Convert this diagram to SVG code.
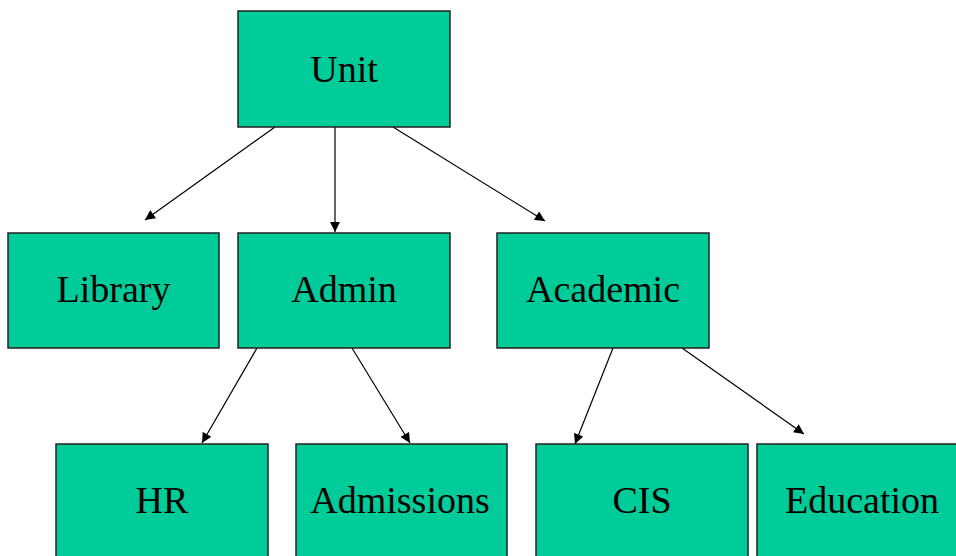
<svg xmlns="http://www.w3.org/2000/svg" width="956" height="556" viewBox="0 0 956 556">
<style>
.box{fill:#00CC99;stroke:#222;stroke-width:1.5}
.lbl{font-family:"Liberation Serif","Times New Roman",serif;font-size:38px;fill:#000;text-anchor:middle}
.edge{stroke:#000;stroke-width:1.2;fill:none;marker-end:url(#ah)}
</style>
<defs>
<marker id="ah" viewBox="0 0 10 10" refX="10" refY="5" markerWidth="11" markerHeight="10" markerUnits="userSpaceOnUse" orient="auto">
<path d="M0,0 L10,5 L0,10 Z" fill="#000"/>
</marker>
</defs>
<rect width="956" height="556" fill="#fff"/>
<g id="connectors">
<line class="edge" x1="275" y1="127" x2="145" y2="220"/>
<line class="edge" x1="335" y1="127" x2="335" y2="232"/>
<line class="edge" x1="393" y1="127" x2="545" y2="221"/>
<line class="edge" x1="257" y1="348" x2="202" y2="443"/>
<line class="edge" x1="352" y1="348" x2="410" y2="443"/>
<line class="edge" x1="613" y1="348" x2="575" y2="444"/>
<line class="edge" x1="682" y1="348" x2="804" y2="434"/>
</g>
<g id="unit"><rect class="box" x="238" y="11" width="212" height="116"/><text class="lbl" x="344" y="82">Unit</text></g>
<g id="library"><rect class="box" x="8" y="233" width="211" height="115"/><text class="lbl" x="113.5" y="302">Library</text></g>
<g id="admin"><rect class="box" x="238" y="233" width="212" height="115"/><text class="lbl" x="344" y="302">Admin</text></g>
<g id="academic"><rect class="box" x="497" y="233" width="212" height="115"/><text class="lbl" x="603" y="302">Academic</text></g>
<g id="hr"><rect class="box" x="56" y="444" width="212" height="120"/><text class="lbl" x="162" y="513">HR</text></g>
<g id="admissions"><rect class="box" x="296" y="444" width="211" height="120"/><text class="lbl" x="400" y="513">Admissions</text></g>
<g id="cis"><rect class="box" x="536" y="444" width="212" height="120"/><text class="lbl" x="642" y="513">CIS</text></g>
<g id="education"><rect class="box" x="757" y="444" width="212" height="120"/><text class="lbl" x="862" y="513">Education</text></g>
</svg>
